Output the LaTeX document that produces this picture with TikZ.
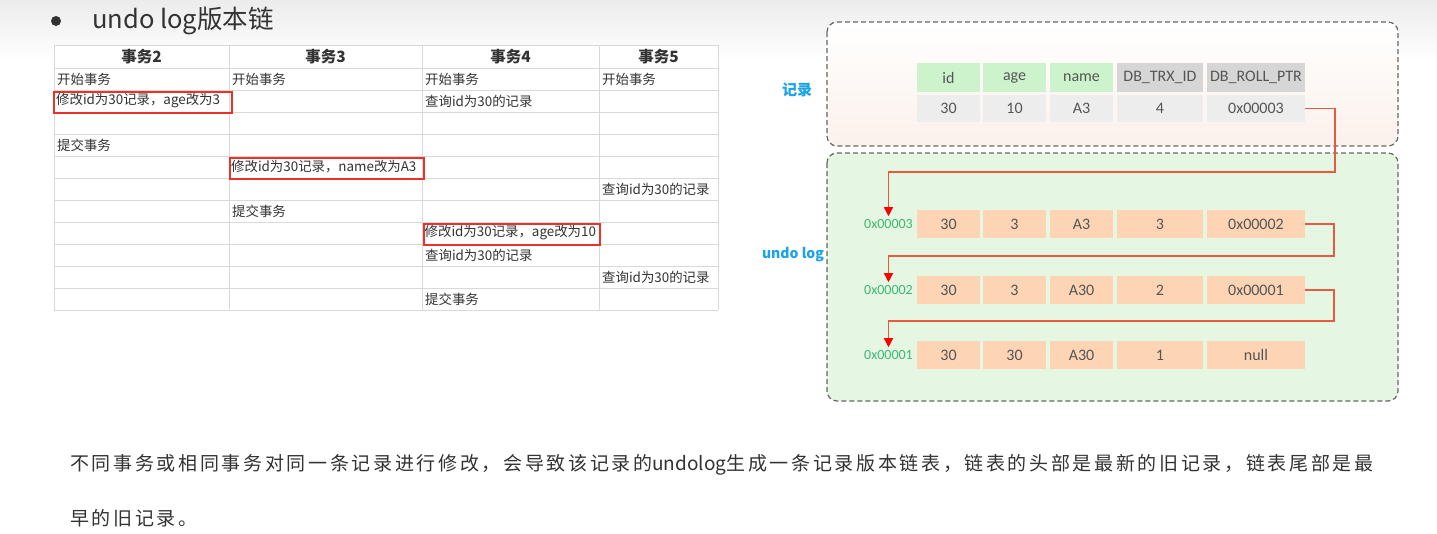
\documentclass[tikz,border=0pt]{standalone}
\usepackage{fontspec}
\setmainfont{Noto Sans CJK SC}
\newfontfamily\cond{Carlito}
\usetikzlibrary{arrows.meta,calc}
\definecolor{txt}{HTML}{333333}
\definecolor{grid}{HTML}{D9D9D9}
\definecolor{redb}{HTML}{E8332A}
\definecolor{hgreen}{HTML}{CDF3CD}
\definecolor{hgray}{HTML}{D6D6D6}
\definecolor{dgray}{HTML}{EDEDED}
\definecolor{peach}{HTML}{FDD4B4}
\definecolor{pinkbg}{HTML}{FBF1EC}
\definecolor{greenbg}{HTML}{E5F6E3}
\definecolor{blueL}{HTML}{1AA3E8}
\definecolor{addr}{HTML}{3DB873}
\definecolor{ptrc}{HTML}{E65A3E}
\definecolor{celltxt}{HTML}{555555}
\tikzset{
  tcell/.style={anchor=west,inner sep=0pt,text=txt,font=\fontsize{13.4}{13.4}\selectfont},
  thead/.style={inner sep=0pt,text=txt,font=\fontsize{15.5}{15.5}\selectfont\bfseries},
  redbox/.style={draw=redb,line width=2pt,anchor=north west,inner sep=0pt},
  rc/.style={inner sep=0pt,text=celltxt,font=\cond\fontsize{16}{16}\selectfont},
  hg/.style={rc,fill=hgreen,minimum height=29pt},
  hy/.style={rc,fill=hgray,minimum height=29pt},
  dc/.style={rc,fill=dgray,minimum height=27pt},
  uc/.style={rc,fill=peach,minimum height=28pt},
  w1/.style={minimum width=63pt},
  w4/.style={minimum width=86pt},
  w5/.style={minimum width=98pt},
  addrlbl/.style={inner sep=1pt,text=addr,font=\cond\fontsize{14}{14}\selectfont},
  dbox/.style={draw=gray!80!black,dashed,dash pattern=on 5pt off 3pt,line width=1.2pt,rounded corners=10pt},
  ptr/.style={draw=ptrc,line width=1.3pt,-{Triangle[width=9pt,length=9pt,fill=red,color=red]}},
  side/.style={text=blueL,font=\fontsize{15}{15}\selectfont\bfseries,inner sep=0pt},
  para/.style={anchor=west,inner sep=0pt,text=txt,font=\fontsize{19}{19}\selectfont\addfontfeature{LetterSpace=14}}
}
\begin{document}
\begin{tikzpicture}[x=1pt,y=-1pt]
\useasboundingbox (0,0) rectangle (1437,533);
\fill[white] (0,0) rectangle (1437,533);
\shade[top color=gray!15,bottom color=white] (0,0) rectangle (1437,60);
% title
\fill[txt] (56,21) circle (5pt);
\node[anchor=west,inner sep=0pt,text=txt,font=\fontsize{25.5}{25.5}\selectfont] (title) at (92,21) {undo log版本链};
% table
\fill[white] (54,45) rectangle (718,310);
\foreach \yy in {45,68,90,112,134,156,178,200,222,244,266,288,310}
  \draw[grid,line width=0.8pt] (54,\yy) -- (718,\yy);
\foreach \xx in {54,229,422,599,718}
  \draw[grid,line width=0.8pt] (\xx,45) -- (\xx,310);
\node[thead] (h2) at (141.5,57) {事务2};
\node[thead] (h3) at (325.5,57) {事务3};
\node[thead] (h4) at (510.5,57) {事务4};
\node[thead] (h5) at (658.5,57) {事务5};
\node[tcell] (a1) at (57,79) {开始事务};
\node[tcell] (b1) at (232,79) {开始事务};
\node[tcell] (c1) at (425,79) {开始事务};
\node[tcell] (d1) at (602,79) {开始事务};
\node[tcell] (a2) at (56,101) {修改id为30记录，age改为3};
\node[tcell] (c2) at (425,101) {查询id为30的记录};
\node[tcell] (a4) at (57,145) {提交事务};
\node[tcell] (b5) at (231,167) {修改id为30记录，name改为A3};
\node[tcell] (d6) at (602,189) {查询id为30的记录};
\node[tcell] (b7) at (232,211) {提交事务};
\node[tcell] (c8) at (424.5,233) {修改id为30记录，age改为10};
\node[tcell] (c9) at (425,255) {查询id为30的记录};
\node[tcell] (d10) at (602,277) {查询id为30的记录};
\node[tcell] (c11) at (425,299) {提交事务};
\node[redbox,minimum width=178pt,minimum height=21pt] (rb1) at (53,91) {};
\node[redbox,minimum width=194pt,minimum height=21pt] (rb2) at (229,157) {};
\node[redbox,minimum width=176pt,minimum height=21pt] (rb3) at (423,223) {};
% right: boxes
\path[dbox,top color=white,bottom color=pinkbg] (827,22) rectangle (1398,146);
\path[dbox,fill=greenbg] (827,153) rectangle (1398,401);
\node[side] (lrec) at (797,90) {记录};
\node[side,font=\fontsize{14}{14}\selectfont\bfseries] (lundo) at (793,255) {undo log};
% record header
\node[hg,w1] (hid) at (948.5,77.5) {id};
\node[hg,w1] (hage) at (1014.5,77.5) {age};
\node[hg,w1] (hname) at (1081.5,77.5) {name};
\node[hy,w4] (htrx) at (1160,77.5) {DB\_TRX\_ID};
\node[hy,w5] (hptr) at (1256,77.5) {DB\_ROLL\_PTR};
\node[dc,w1] (r1) at (948.5,108.5) {30};
\node[dc,w1] (r2) at (1014.5,108.5) {10};
\node[dc,w1] (r3) at (1081.5,108.5) {A3};
\node[dc,w4] (r4) at (1160,108.5) {4};
\node[dc,w5] (r5) at (1256,108.5) {0x00003};
% undo rows
\node[uc,w1] (u11) at (948.5,224) {30};
\node[uc,w1] (u12) at (1014.5,224) {3};
\node[uc,w1] (u13) at (1081.5,224) {A3};
\node[uc,w4] (u14) at (1160,224) {3};
\node[uc,w5] (u15) at (1256,224) {0x00002};
\node[uc,w1] (u21) at (948.5,290) {30};
\node[uc,w1] (u22) at (1014.5,290) {3};
\node[uc,w1] (u23) at (1081.5,290) {A30};
\node[uc,w4] (u24) at (1160,290) {2};
\node[uc,w5] (u25) at (1256,290) {0x00001};
\node[uc,w1] (u31) at (948.5,355) {30};
\node[uc,w1] (u32) at (1014.5,355) {30};
\node[uc,w1] (u33) at (1081.5,355) {A30};
\node[uc,w4] (u34) at (1160,355) {1};
\node[uc,w5] (u35) at (1256,355) {null};
\node[addrlbl,anchor=east] (L1) at (914,224) {0x00003};
\node[addrlbl,anchor=east] (L2) at (914,290) {0x00002};
\node[addrlbl,anchor=east] (L3) at (914,355) {0x00001};
\coordinate (k1) at (1335,172);
\coordinate (k2) at (1334,256);
\coordinate (k3) at (1334,321);
\draw[ptr] (r5.east) -| (k1) -| ($(L1.north)+(0,-2)$);
\draw[ptr] (u15.east) -| (k2) -| ($(L2.north)+(0,-2)$);
\draw[ptr] (u25.east) -| (k3) -| ($(L3.north)+(0,-2)$);
% bottom text
\node[para] (p1) at (70,465) {不同事务或相同事务对同一条记录进行修改，会导致该记录的{\addfontfeature{LetterSpace=0}undolog}生成一条记录版本链表，链表的头部是最新的旧记录，链表尾部是最};
\node[para] (p2) at (70,518) {早的旧记录。};
\end{tikzpicture}
\end{document}
